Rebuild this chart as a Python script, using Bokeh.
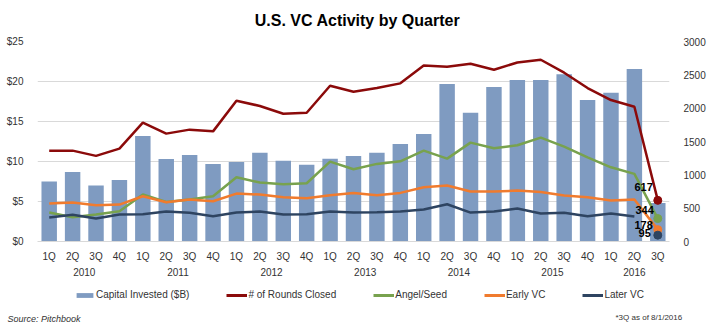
from bokeh.plotting import figure
from bokeh.layouts import column, row
from bokeh.models import (FactorRange, Range1d, LinearAxis, NumeralTickFormatter, Legend,
                          LegendItem, Label, ColumnDataSource, FixedTicker)
from bokeh.embed import file_html
from bokeh.resources import INLINE
from bokeh.core.properties import value

years = ["2010", "2011", "2012", "2013", "2014", "2015", "2016"]
quarters = ["1Q", "2Q", "3Q", "4Q"]
periods = [(y, q) for y in years for q in quarters][:27]

capital = [7.5, 8.7, 7.0, 7.7, 13.2, 10.3, 10.8, 9.7, 9.95, 11.1, 10.1, 9.6, 10.35, 10.7,
           11.1, 12.2, 13.45, 19.7, 16.1, 19.3, 20.2, 20.2, 20.9, 17.7, 18.6, 21.55, 4.8]
rounds = [1363, 1363, 1284, 1393, 1783, 1618, 1678, 1652, 2112, 2033, 1917, 1932, 2337, 2247,
          2302, 2372, 2641, 2621, 2666, 2577, 2686, 2726, 2532, 2302, 2122, 2022, 617]
angel = [434, 365, 404, 454, 704, 594, 629, 679, 963, 884, 859, 874, 1198, 1083,
         1164, 1203, 1363, 1243, 1483, 1398, 1443, 1558, 1423, 1263, 1113, 1014, 344]
early = [569, 584, 544, 554, 679, 589, 629, 604, 719, 704, 664, 649, 694, 729,
         694, 729, 814, 839, 749, 749, 764, 744, 689, 664, 614, 629, 178]
later = [360, 400, 345, 404, 409, 449, 430, 379, 434, 449, 404, 409, 449, 434,
         439, 449, 479, 559, 434, 449, 494, 419, 430, 379, 419, 374, 95]

left_ticks = [0, 5, 10, 15, 20, 25]
right_ticks = [0, 500, 1000, 1500, 2000, 2500, 3000]
series_names = ["Capital Invested ($B)", "# of Rounds Closed", "Angel/Seed", "Early VC", "Later VC"]

FONT = "Liberation Sans"
BAR = "#7F9BC1"
RED = "#8B0A0A"
GREEN = "#78A24E"
ORANGE = "#F07B2E"
NAVY = "#2E4461"
TXT = "#333333"


def strip(h):
    f = figure(width=714, height=h, x_range=Range1d(0, 1), y_range=Range1d(0, 1),
               output_backend="svg", toolbar_location=None, min_border=0,
               x_axis_location=None, y_axis_location=None,
               outline_line_color=None, background_fill_color="white", border_fill_color="white")
    f.grid.grid_line_color = None
    return f


# top strip: title
p0 = strip(30)
p0.add_layout(Label(x=357, y=10, x_units="screen", y_units="screen", text="U.S. VC Activity by Quarter",
                    text_align="center", text_baseline="alphabetic", text_font=FONT,
                    text_font_size="16px", text_font_style="bold", text_color="black"))

# main chart
p = figure(width=714, height=252,
           x_range=FactorRange(*periods, factor_padding=0, group_padding=0, range_padding=0),
           y_range=Range1d(0, 25), output_backend="svg", toolbar_location=None,
           min_border_left=37, min_border_right=45, min_border_top=11, min_border_bottom=41,
           outline_line_color=None, background_fill_color="white", border_fill_color="white")
p.extra_y_ranges = {"r": Range1d(0, 3000)}
p.title.text = ""
p.title.standoff = 0

src = ColumnDataSource(dict(x=periods, cap=capital, rounds=rounds, angel=angel, early=early))
p.vbar(x="x", top="cap", width=0.66, source=src, fill_color=BAR, line_color=None)
p.line(x="x", y="rounds", source=src, y_range_name="r", line_color=RED, line_width=2.5)
p.line(x="x", y="angel", source=src, y_range_name="r", line_color=GREEN, line_width=2.5)
p.line(x="x", y="early", source=src, y_range_name="r", line_color=ORANGE, line_width=2.5)
p.line(x=periods[:26], y=later[:26], y_range_name="r", line_color=NAVY, line_width=2.5)

last = periods[-1]
for vals, col in [(rounds, RED), (angel, GREEN), (early, ORANGE), (later, NAVY)]:
    p.scatter(x=[last], y=[vals[-1]], y_range_name="r", size=8, fill_color=col, line_color=col)

# value labels for the last quarter
lbl_offsets = [(rounds, -5, -13), (angel, -4, -9), (early, -5, -5), (later, -7, -2)]
for vals, dx, dy in lbl_offsets:
    p.text(x=[last], y=[vals[-1]], text=[str(vals[-1])], y_range_name="r",
           x_offset=dx, y_offset=dy, text_align="right", text_baseline="middle",
           text_font=value(FONT), text_font_size="11px", text_font_style="bold", text_color="black")

# axes
p.yaxis.ticker = FixedTicker(ticks=left_ticks)
p.yaxis.formatter = NumeralTickFormatter(format="$0")
ra = LinearAxis(y_range_name="r", ticker=FixedTicker(ticks=right_ticks))
p.add_layout(ra, "right")
for ax in [p.yaxis[0], ra]:
    ax.axis_line_color = None
    ax.major_tick_line_color = None
    ax.minor_tick_line_color = None
    ax.major_label_text_font = FONT
    ax.major_label_text_font_size = "10px"
    ax.major_label_text_color = TXT
    ax.major_label_standoff = 8

xa = p.xaxis[0]
xa.axis_line_color = "#D9D9D9"
xa.major_tick_line_color = None
xa.minor_tick_line_color = None
xa.major_label_text_font = FONT
xa.major_label_text_font_size = "10px"
xa.major_label_text_color = TXT
xa.major_label_standoff = 3
xa.group_text_font = FONT
xa.group_text_font_size = "10px"
xa.group_text_font_style = "normal"
xa.group_text_color = TXT
xa.separator_line_color = None

p.xgrid.grid_line_color = None
p.ygrid.grid_line_color = "#D9D9D9"

# bottom strip: legend + notes
p2 = strip(49)
nan = float("nan")
g_bar = p2.vbar(x=[nan], top=[nan], width=0.5, fill_color=BAR, line_color=None)
g_lines = [p2.line(x=[nan, nan], y=[nan, nan], line_color=c, line_width=3)
           for c in [RED, GREEN, ORANGE, NAVY]]
legend = Legend(items=[LegendItem(label=n, renderers=[r]) for n, r in zip(series_names, [g_bar] + g_lines)],
                orientation="horizontal", location=(74, 31), spacing=37, label_standoff=1,
                glyph_width=21, glyph_height=6, label_text_font=FONT, label_text_font_size="10px",
                label_text_color=TXT, border_line_color=None, background_fill_alpha=0,
                padding=0, margin=0)
p2.add_layout(legend, "center")
p2.add_layout(Label(x=7, y=13, x_units="screen", y_units="screen", text="Source: Pitchbook",
                    text_baseline="middle", text_font=FONT, text_font_size="9px",
                    text_font_style="italic", text_color=TXT))
p2.add_layout(Label(x=615, y=14, x_units="screen", y_units="screen", text="*3Q as of 8/1/2016",
                    text_baseline="middle", text_font=FONT, text_font_size="8px",
                    text_color=TXT))

layout = column(row(p0, spacing=0), p, row(p2, spacing=0), spacing=0)
open("out.html", "w").write(file_html(layout, INLINE))
